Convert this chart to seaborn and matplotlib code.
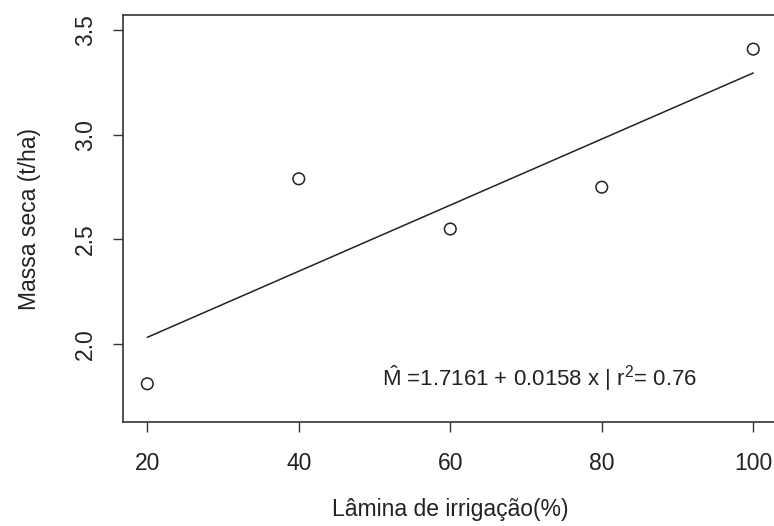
import matplotlib
matplotlib.use("Agg")
import matplotlib.pyplot as plt
import seaborn as sns
import numpy as np
import pandas as pd

# Data
lamina = [20, 40, 60, 80, 100]
massa = [1.81, 2.79, 2.55, 2.75, 3.41]
intercept = 1.7161
slope = 0.0158
r2 = 0.76
xticks = [20, 40, 60, 80, 100]
yticks = [2.0, 2.5, 3.0, 3.5]

sns.set_theme(style="white")
plt.rcParams['font.family'] = ['Liberation Sans', 'DejaVu Sans']
plt.rcParams['mathtext.fontset'] = 'custom'
plt.rcParams['mathtext.rm'] = 'Liberation Sans'
plt.rcParams['mathtext.it'] = 'Liberation Sans'

fig = plt.figure(figsize=(7.74, 5.26), dpi=100)
ax = fig.add_axes([0.159, 0.198, 0.8455, 0.773])

df = pd.DataFrame({"x": lamina, "y": massa})
sns.scatterplot(data=df, x="x", y="y", ax=ax, marker="o", s=70,
                facecolor="none", edgecolor="#222222", linewidth=1.1)

fit_x = np.array([min(lamina), max(lamina)])
fit_df = pd.DataFrame({"x": fit_x, "y": intercept + slope * fit_x})
sns.lineplot(data=fit_df, x="x", y="y", ax=ax, color="#222222", linewidth=1.1)

ax.set_xlim(16.8, 103.2)
ax.set_ylim(1.628, 3.572)
ax.set_xticks(xticks)
ax.set_xticklabels([str(v) for v in xticks])
ax.set_yticks(yticks)
ax.set_yticklabels([f"{v:.1f}" for v in yticks], rotation=90, va="center")

ax.tick_params(axis="both", direction="out", length=7.5, width=1.0,
               color="#333333", labelsize=16.5, labelcolor="#222222",
               bottom=True, left=True)
ax.tick_params(axis="x", pad=14)
ax.tick_params(axis="y", pad=11)

for sp in ax.spines.values():
    sp.set_visible(True)
    sp.set_color("#333333")
    sp.set_linewidth(1.2)

ax.set_xlabel("Lâmina de irrigação(%)", fontsize=16.5, color="#222222", labelpad=17)
ax.set_ylabel("Massa seca (t/ha)", fontsize=16.5, color="#222222", labelpad=24)

ax.text(51.0, 1.835,
        r"$\hat{\mathrm{M}}$ =1.7161 + 0.0158 x | r$^{2}$= " + f"{r2:.2f}",
        fontsize=16, color="#222222", va="center", ha="left")

fig.savefig("out.png", dpi=100)
